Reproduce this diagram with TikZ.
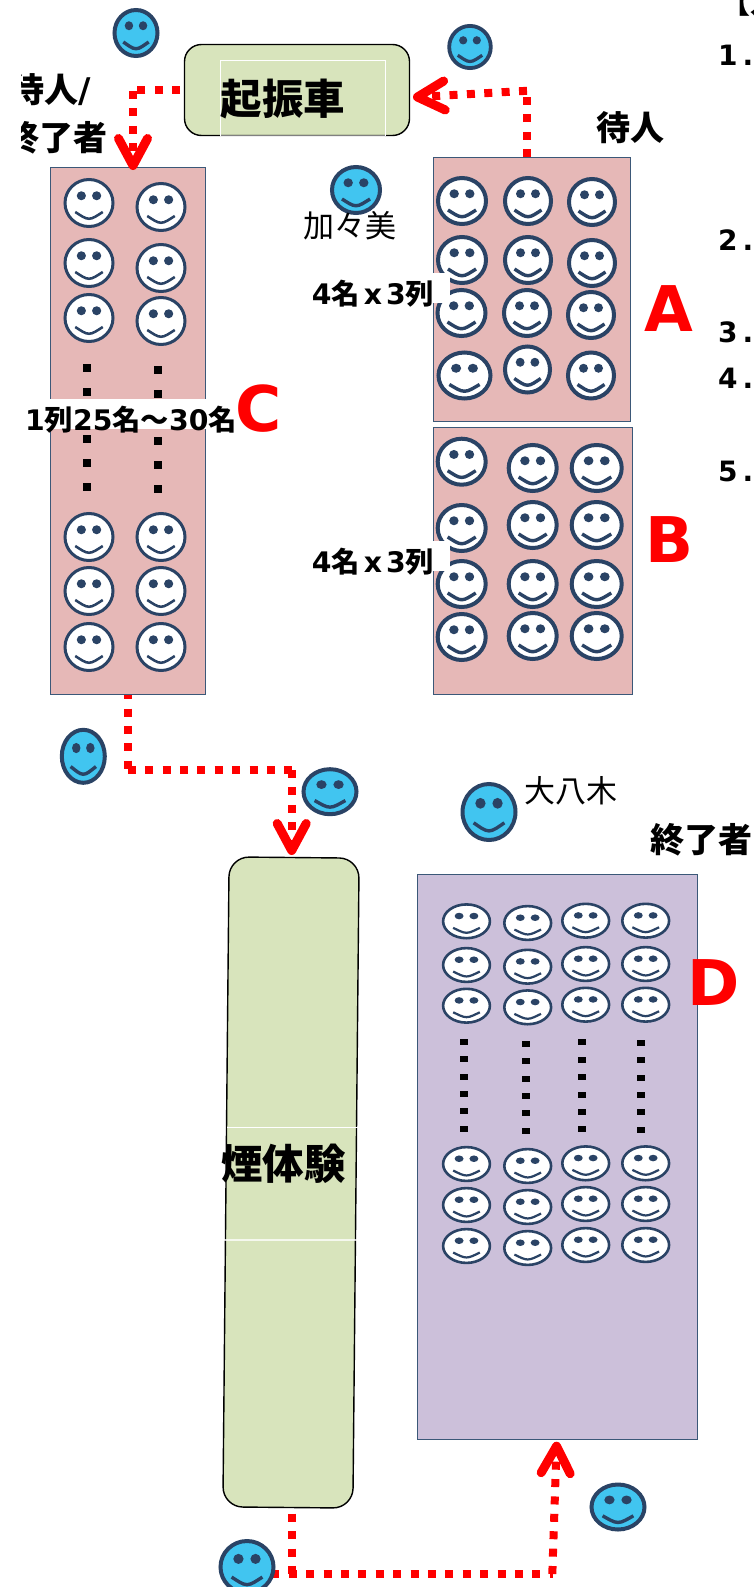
\documentclass[tikz,border=0pt]{standalone}
\usepackage{fontspec}
\usetikzlibrary{arrows.meta}
\newfontfamily\jpfont{Noto Sans CJK JP}
\newfontfamily\latinf{DejaVu Sans}
\definecolor{faceline}{HTML}{2A4365}
\definecolor{faceblue}{HTML}{41C5F0}
\definecolor{pinkbox}{HTML}{E6B8B7}
\definecolor{purplebox}{HTML}{CCC0DA}
\definecolor{greenbox}{HTML}{D8E4BC}
\definecolor{boxline}{HTML}{3B5878}
\newcommand\face[6]{%
  \begin{scope}[shift={(#1,#2)}]
    \draw[fill=#5,draw=faceline,line width=#6pt] (0,0) ellipse [x radius={#3pt-#6pt/2},y radius={#4pt-#6pt/2}];
    \begin{scope}[x=#3pt,y=-#4pt]
      \fill[faceline] (-.3,-.29) ellipse [x radius={.18*#3pt},y radius={.18*#4pt}];
      \fill[faceline] (.3,-.29) ellipse [x radius={.18*#3pt},y radius={.18*#4pt}];
      \draw[faceline,line width=#6pt*.85] (-.54,.36) .. controls (-.32,.5) and (-.16,.63) .. (0,.63) .. controls (.16,.63) and (.32,.5) .. (.54,.36);
    \end{scope}
  \end{scope}}
\newcommand\fs[1]{\fontsize{#1}{#1}\selectfont}
\tikzset{
  zone/.style={draw=boxline,line width=1.5pt,inner sep=0,outer sep=0},
  machine/.style={draw=black,line width=1.4pt,fill=greenbox,inner sep=0,outer sep=0,rounded corners=17pt},
  reddash/.style={draw=red,line width=8pt,dash pattern=on 8pt off 9.4pt},
  redtip/.style={reddash,-{Straight Barb[length=27pt,width=29pt,line width=9pt,round]}},
  boldlbl/.style={font=\jpfont\bfseries\fs{34},inner sep=0},
  smalllbl/.style={font=\latinf\bfseries\fs{28.3},inner sep=0},
  thinlbl/.style={font=\jpfont\fs{31},inner sep=0},
  mainlbl/.style={font=\jpfont\bfseries\fs{41.5},inner sep=0},
  letter/.style={font=\latinf\bfseries\fs{63},text=red,inner sep=0},
  numlbl/.style={font=\latinf\bfseries\fs{28},inner sep=0,anchor=west},
  gridline/.style={white,line width=1pt},
}
\begin{document}
\begin{tikzpicture}[x=1pt,y=-1pt]
\useasboundingbox (0,0) rectangle (754,1587);
\clip (0,0) rectangle (754,1587);
\fill[white] (0,0) rectangle (754,1587);

% zones and machines
\node[zone,fill=pinkbox,minimum width=197pt,minimum height=264pt] (boxA) at (532,289.5) {};
\node[zone,fill=pinkbox,minimum width=199pt,minimum height=267pt] (boxB) at (533,561) {};
\node[zone,fill=pinkbox,minimum width=155pt,minimum height=527pt] (boxC) at (128,431) {};
\node[zone,fill=purplebox,minimum width=280pt,minimum height=565pt] (boxD) at (557.5,1157) {};
\node[machine,minimum width=225pt,minimum height=91pt] (crane) at (297,90) {};
\node[machine,minimum width=130pt,minimum height=650pt,rotate=-0.55,rounded corners=20pt] (smoke) at (291,1182.5) {};

% white frames of the text boxes
\draw[gridline] (220,136) -- (220,61) -- (385,61) -- (385,136);
\draw[white,opacity=.5,line width=1.2pt] (220,136) -- (385,136);
\draw[gridline] (227,1127) -- (359,1127);
\draw[white,opacity=.75,line width=1.4pt] (224,1240) -- (357,1240);

% faces in A
\foreach \px/\py/\rx/\ry in {462/201/26/25,528/201/25/25,592/202/25/25,
  462/260/26/25,528/260/25/25,592/263/25/25,
  461.5/313/26/25,527/313/25/25,591/315/25/25,
  464.5/375.5/28/25,527.5/369.5/24.5/25,591/375.5/25/25}
  {\face{\px}{\py}{\rx}{\ry}{white}{4}}
% faces in B
\foreach \px/\py/\rx/\ry in {461.7/461.7/26/25,461.7/528/26/25,461.7/584/26/25,461.7/637/26/25,
  532.7/468/26/25,532.7/525/26/25,532.7/584/26/25,532.7/636/26/25,
  596.7/468/27/25,596.7/525/27/25,596.7/584/27/25,596.7/636/27/25}
  {\face{\px}{\py}{\rx}{\ry}{white}{4}}
% faces in C
\foreach \px/\py in {89/203,89/263,89/318,89/537,89/591,89/647,
  161/207,161/268,161/321,161/537,161/591,161/647}
  {\face{\px}{\py}{25.5}{25}{white}{3}}
% faces in D
\foreach \px/\ya/\yb/\yc/\yd/\ye/\yf in {466.5/921.3/965/1005.7/1164/1205/1246,
  527.7/923/966.7/1007.3/1166/1207/1248,
  585.7/920.7/964/1004.7/1163.3/1204/1245,
  645.7/920.7/964/1004.7/1163.3/1204/1245}{
  \foreach \py in {\ya,\yb,\yc,\yd,\ye,\yf}
    {\face{\px}{\py}{24.7}{18.2}{white}{2.6}}
}

% dots
\foreach \px/\ps in {86.7/0,158.3/2}{
  \foreach \py in {368,392,439,463,487}{
    \fill[black] (\px-4,\py+\ps-4) rectangle (\px+4,\py+\ps+4);
  }
}
\foreach \px/\ps in {464.3/1041.7,526.3/1043.7,581.7/1042.3,641.3/1042.7}{
  \foreach \k in {0,...,5}{
    \fill[black] (\px-4,\ps+17.4*\k-3) rectangle (\px+4,\ps+17.4*\k+3);
  }
}

% connectors
\coordinate (a1) at (133,90);
\coordinate (a1s) at (133,91);
\coordinate (a1t) at (133,170);
\draw[reddash,dash phase=13.1pt] (crane.west) -- (a1);
\draw[redtip] (a1s) -- (a1t);

\coordinate (a2s) at (527,157);
\coordinate (a2) at (527,91);
\coordinate (a2h) at (527,90.8);
\coordinate (a2t) at (413,97.3);
\draw[reddash] (a2s) -- (a2);
\draw[redtip] (a2h) -- (a2t);

\coordinate (a3) at (128,770);
\coordinate (a3h) at (127.7,770);
\coordinate (a3b) at (292,770);
\coordinate (a3c) at (291.7,770);
\coordinate (a3t) at (291.7,855);
\draw[reddash,dash phase=3.4pt] (boxC.south) -- (a3);
\draw[reddash] (a3h) -- (a3b);
\draw[redtip] (a3c) -- (a3t);

\coordinate (a4s) at (291.7,1508);
\coordinate (a4) at (291.7,1574);
\coordinate (a4h) at (271.3,1574);
\coordinate (a4b) at (552.5,1574);
\coordinate (a4c) at (552.3,1574);
\coordinate (a4t) at (556.7,1441.7);
\draw[reddash,dash phase=11.7pt] (a4s) -- (a4);
\draw[reddash] (a4h) -- (a4b);
\draw[redtip] (a4c) -- (a4t);

% blue faces
\face{136}{33}{23.5}{25}{faceblue}{4}
\face{470}{47}{22.7}{23}{faceblue}{3.8}
\face{356}{190}{26}{25}{faceblue}{4}
\face{83.3}{756.3}{23.5}{28.5}{faceblue}{4}
\face{330}{791.7}{28.5}{24.5}{faceblue}{4}
\face{489}{812}{28.5}{30}{faceblue}{4}
\face{618}{1507}{28.5}{24.5}{faceblue}{4}
\face{247}{1567}{28.5}{28}{faceblue}{4}

% white label strips
\fill[white] (312,273) rectangle (450,303);
\fill[white] (312,541) rectangle (450,571);
\fill[white] (50,399) rectangle (206.7,428.7);

% texts
\node[mainlbl] (tcrane) at (283,99) {起振車};
\node[mainlbl] (tsmoke) at (283.5,1164) {煙体験};
\node[boldlbl,anchor=east] (twait1) at (91,90) {待人\latinf\bfseries/};
\node[boldlbl,anchor=east] (tdone1) at (108,138) {終了者};
\fill[white] (0,60) rectangle (20.7,160);
\node[boldlbl] (twait2) at (630,128) {待人};
\node[boldlbl] (tdone2) at (701,840) {終了者};
\node[thinlbl] (tkagami) at (350,226) {加々美};
\node[thinlbl] (toyagi) at (571,791) {大八木};
\node[smalllbl] (t43a) at (373,293.5) {4{\jpfont\bfseries 名}\kern4pt x\kern4pt 3{\jpfont\bfseries 列}};
\node[smalllbl] (t43b) at (373,562) {4{\jpfont\bfseries 名}\kern4pt x\kern4pt 3{\jpfont\bfseries 列}};
\node[smalllbl] (t25) at (131,419.5) {1{\jpfont\bfseries 列}25{\jpfont\bfseries 名～}30{\jpfont\bfseries 名}};
\node[letter] (lA) at (669,309) {A};
\node[letter] (lB) at (670,539.5) {B};
\node[letter] (lC) at (259,409) {C};
\node[letter] (lD) at (714,983) {D};
\node[numlbl] (n1) at (718,55) {1\kern5pt.};
\node[numlbl] (n2) at (718,240) {2\kern5pt.};
\node[numlbl] (n3) at (718,332) {3\kern5pt.};
\node[numlbl] (n4) at (718,378.5) {4\kern5pt.};
\node[numlbl] (n5) at (718,471) {5\kern5pt.};
\node[font=\jpfont\bfseries\fs{30},inner sep=0,anchor=base west] (thead) at (720,14) {【人};
\end{tikzpicture}
\end{document}
